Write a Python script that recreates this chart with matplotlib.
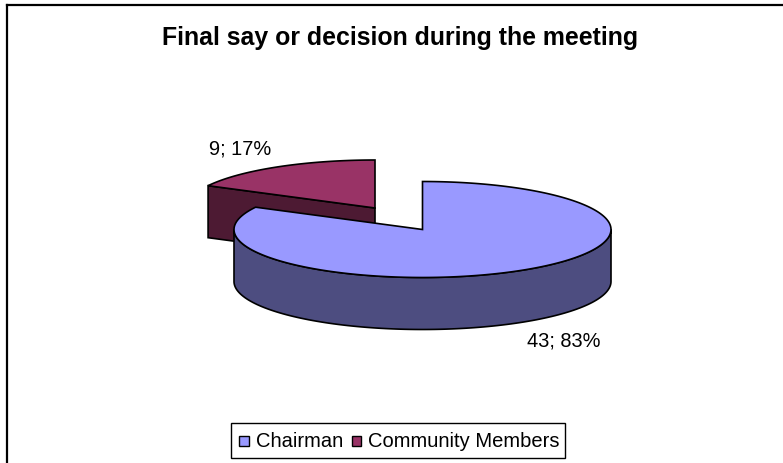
import matplotlib
matplotlib.use('Agg')
import matplotlib.pyplot as plt
import numpy as np
from matplotlib.patches import Polygon, Rectangle

title = 'Final say or decision during the meeting'
categories = ['Chairman', 'Community Members']
counts = [43, 9]
percents = [83, 17]

top_colors = ['#9999FF', '#993366']
side_colors = ['#4D4D80', '#4D1A33']
edge = 'black'

# pie layout in pixels
rx, ry = 188.5, 48
depth = 52
centers = [(422.5, 230.5), (375, 209)]

plt.rcParams['font.family'] = ['Liberation Sans', 'DejaVu Sans']


def arc(center, a0, a1, n=120, dy=0):
    # angles in degrees, clockwise from twelve o'clock
    t = np.radians(np.linspace(a0, a1, n))
    return np.column_stack([center[0] + rx * np.sin(t),
                            center[1] - ry * np.cos(t) + dy])


fig = plt.figure(figsize=(7.83, 4.64), dpi=100)
ax = fig.add_axes([0, 0, 1, 1])
ax.set_xlim(0, 783)
ax.set_ylim(464, 0)
ax.axis('off')

split = 360.0 * counts[0] / sum(counts)

# only the top and left sides of the chart frame are in view
ax.plot([7, 7], [464, 6], color=edge, lw=1.6, zorder=0)
ax.plot([7, 783], [6, 6], color=edge, lw=1.6, zorder=0)

# small wedge, pulled out to the upper left
c2 = centers[1]
p_left = arc(c2, split, split, n=1)[0]
face = [p_left, c2, (c2[0], c2[1] + depth), (p_left[0], p_left[1] + depth)]
ax.add_patch(Polygon(face, fc=side_colors[1], ec=edge, lw=1.2, zorder=1))
wedge2 = np.vstack([[c2], arc(c2, split, 360)])
ax.add_patch(Polygon(wedge2, fc=top_colors[1], ec=edge, lw=1.2, zorder=2))

# large wedge, rim first and then the top
c1 = centers[0]
rim = np.vstack([arc(c1, 90, 270), arc(c1, 90, 270, dy=depth)[::-1]])
ax.add_patch(Polygon(rim, fc=side_colors[0], ec=edge, lw=1.2, zorder=3))
wedge1 = np.vstack([[c1], arc(c1, 0, split, n=240)])
ax.add_patch(Polygon(wedge1, fc=top_colors[0], ec=edge, lw=1.2, zorder=4))

ax.text(400, 45, title, ha='center', va='baseline', fontsize=17.9, fontweight='bold')

# value labels
ax.text(240, 155, f'{counts[1]}; {percents[1]}%', ha='center', va='baseline', fontsize=14.4)
ax.text(564, 347, f'{counts[0]}; {percents[0]}%', ha='center', va='baseline', fontsize=14.4)

# legend
ax.add_patch(Rectangle((231, 424), 334, 35, fc='white', ec=edge, lw=1.0, zorder=5))
ax.add_patch(Rectangle((239, 437), 9.5, 9.5, fc=top_colors[0], ec=edge, lw=1.0, zorder=6))
ax.text(256, 447, categories[0], ha='left', va='baseline', fontsize=14.5, zorder=6)
ax.add_patch(Rectangle((351.5, 437), 9.5, 9.5, fc=top_colors[1], ec=edge, lw=1.0, zorder=6))
ax.text(368, 447, categories[1], ha='left', va='baseline', fontsize=14.5, zorder=6)

fig.savefig('out.png', dpi=100)
